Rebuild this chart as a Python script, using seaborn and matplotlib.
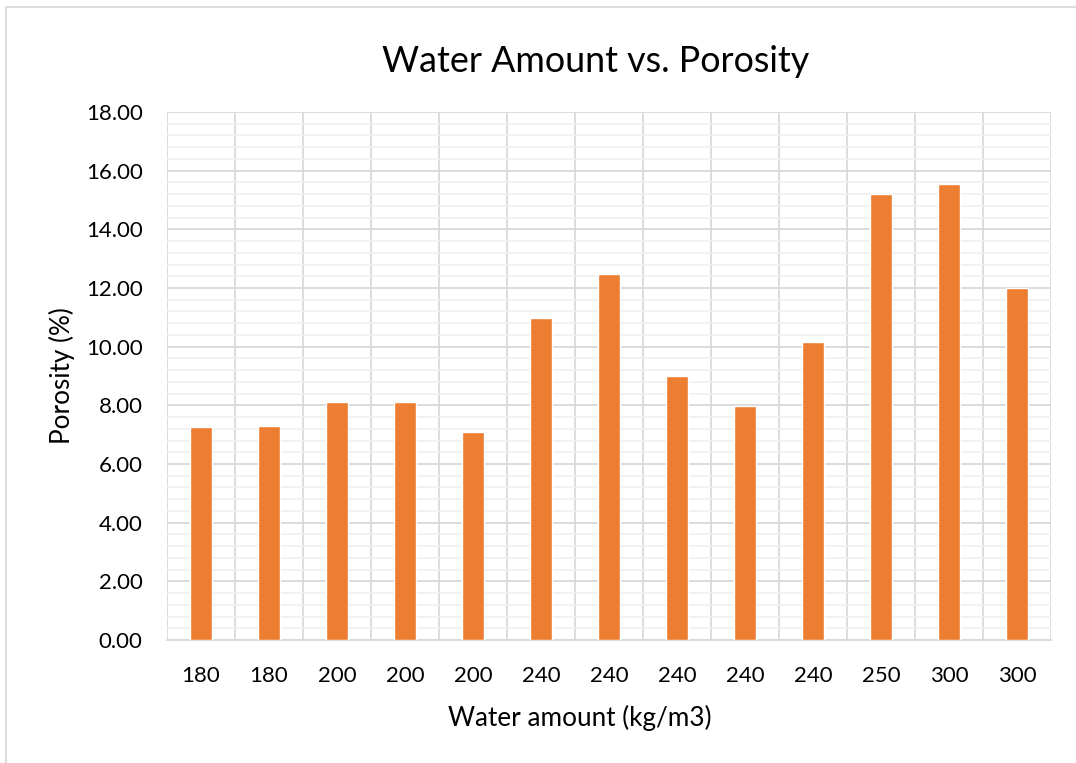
import matplotlib
matplotlib.use("Agg")
import matplotlib.pyplot as plt
from matplotlib.patches import Rectangle
from matplotlib.ticker import MultipleLocator, FixedLocator
import seaborn as sns
import pandas as pd

# Mix designs in test order
water_amount = ["180", "180", "200", "200", "200", "240", "240",
                "240", "240", "240", "250", "300", "300"]
porosity = [7.26, 7.30, 8.11, 8.11, 7.09, 10.98, 12.48,
            9.00, 7.98, 10.16, 15.19, 15.54, 11.99]
y_ticks = [0, 2, 4, 6, 8, 10, 12, 14, 16, 18]

df = pd.DataFrame({"mix": range(len(porosity)), "porosity": porosity})

sns.set_theme(style="white")
plt.rcParams["font.family"] = ["Lato", "DejaVu Sans"]

W, H = 1076, 763
fig = plt.figure(figsize=(W / 100, H / 100), dpi=100)

# chart frame
fig.patches.append(Rectangle((6 / W, -0.05), 1.2, (H - 7) / H + 0.05,
                             transform=fig.transFigure, fill=False,
                             edgecolor="#d9d9d9", linewidth=1.3))

ax = fig.add_axes([167 / W, (H - 640) / H, (1051 - 167) / W, (640 - 112) / H])
sns.barplot(data=df, x="mix", y="porosity", color="#ED7D31", width=0.32,
            saturation=1, ax=ax, zorder=3)

n = len(porosity)
ax.set_xlim(-0.5, n - 0.5)
ax.set_ylim(0, 18)
ax.set_xticks(range(n))
ax.set_xticklabels(water_amount)
ax.set_yticks(y_ticks)
ax.set_yticklabels([f"{v:.2f}" for v in y_ticks])
ax.yaxis.set_minor_locator(MultipleLocator(0.4))
ax.xaxis.set_minor_locator(FixedLocator([i - 0.5 for i in range(n + 1)]))

ax.grid(False)
ax.grid(which="minor", axis="y", color="#f0f0f0", linewidth=1.2, zorder=0)
ax.grid(which="major", axis="y", color="#d9d9d9", linewidth=1.3, zorder=1)
ax.grid(which="minor", axis="x", color="#d9d9d9", linewidth=1.3, zorder=1)
ax.set_axisbelow(True)

for s in ["top", "right", "left"]:
    ax.spines[s].set_visible(False)
ax.spines["bottom"].set_color("#d9d9d9")
ax.spines["bottom"].set_linewidth(1.3)

ax.tick_params(axis="both", which="both", length=0, labelsize=16,
               labelcolor="#000000")
ax.tick_params(axis="x", pad=19)
ax.tick_params(axis="y", pad=17.5)
ax.set_xlabel("")
ax.set_ylabel("")

fig.text(596 / W, 1 - 62 / H, "Water Amount vs. Porosity", ha="center",
         va="center", fontsize=25.8, color="#000000")
fig.text(580 / W, 1 - 718 / H, "Water amount (kg/m3)", ha="center",
         va="center", fontsize=18.8, color="#000000")
fig.text(62 / W, 1 - 376 / H, "Porosity (%)", ha="center", va="center",
         rotation=90, fontsize=18.8, color="#000000")

fig.savefig("out.png", dpi=100, facecolor="white")
